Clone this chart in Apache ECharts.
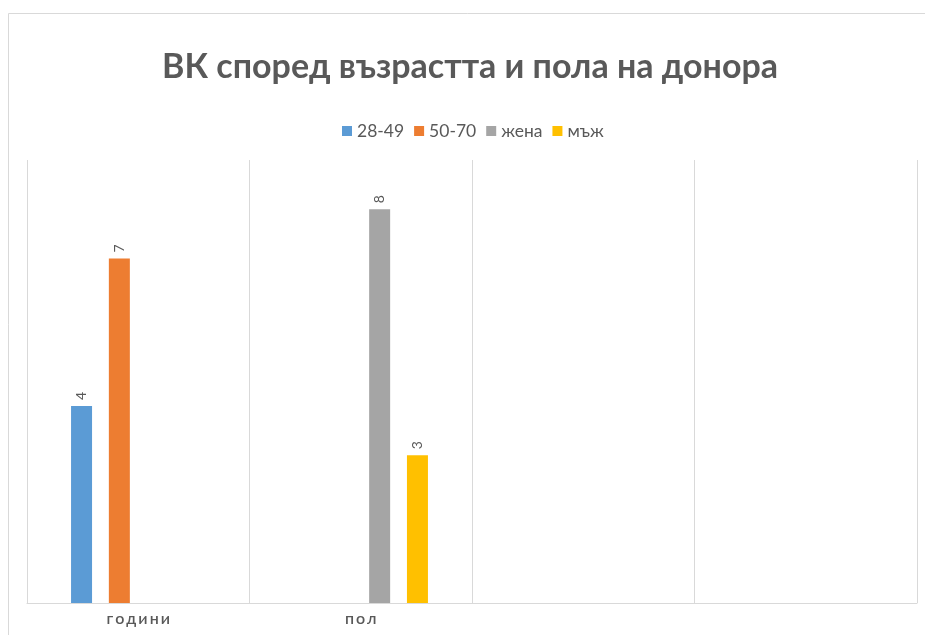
<!DOCTYPE html>
<html>
<head>
<meta charset="utf-8">
<script src="https://cdn.jsdelivr.net/npm/echarts@6/dist/echarts.min.js"></script>
<style>
  html, body { margin: 0; padding: 0; background: #fff; }
  #chart { width: 925px; height: 635px; }
</style>
</head>
<body>
<div id="chart"></div>
<script>
// Categories along the horizontal axis (last two are empty columns)
const categories = ['години', 'пол', '', ''];
const seriesNames = ['28-49', '50-70', 'жена', 'мъж'];
const age2849 = [4, null, null, null];
const age5070 = [7, null, null, null];
const female = [null, 8, null, null];
const male = [null, 3, null, null];
const seriesValues = [age2849, age5070, female, male];
const colors = ['#5b9bd5', '#ed7d31', '#a5a5a5', '#ffc000'];

const chart = echarts.init(document.getElementById('chart'));

const series = seriesNames.map((name, i) => ({
  name: name,
  type: 'bar',
  data: seriesValues[i],
  barWidth: 21,
  barGap: '80%',
  itemStyle: { color: colors[i] },
  label: {
    show: true,
    position: 'top',
    rotate: 90,
    align: 'left',
    verticalAlign: 'middle',
    distance: 6,
    color: '#595959',
    fontFamily: 'Lato',
    fontSize: 14
  }
}));

chart.setOption({
  animation: false,
  backgroundColor: '#ffffff',
  title: {
    text: 'ВК според възрастта и пола на донора',
    left: 157,
    top: 45,
    textStyle: {
      fontFamily: 'Lato',
      fontWeight: 'bold',
      fontSize: 34,
      color: '#595959'
    }
  },
  legend: {
    data: seriesNames,
    top: 117,
    left: 337,
    icon: 'rect',
    itemWidth: 10,
    itemHeight: 10,
    itemGap: 10,
    textStyle: {
      fontFamily: 'Lato',
      fontSize: 17.5,
      color: '#595959',
      padding: [0, 0, 0, 0]
    }
  },
  grid: {
    left: 27,
    right: 8,
    top: 160,
    bottom: 32,
    containLabel: false
  },
  xAxis: {
    type: 'category',
    data: categories,
    axisLine: { lineStyle: { color: '#d9d9d9', width: 1 } },
    axisTick: { show: false },
    splitLine: { show: true, lineStyle: { color: '#d9d9d9', width: 1 } },
    axisLabel: {
      margin: 8,
      color: '#595959',
      fontFamily: 'Lato',
      fontSize: 16,
      fontWeight: 600,
      // spread the letters apart a little
      formatter: v => v.split('').join('\u2009')
    }
  },
  yAxis: {
    type: 'value',
    min: 0,
    max: 9,
    show: false,
    splitLine: { show: false }
  },
  graphic: [{
    type: 'rect',
    silent: true,
    z: -1,
    shape: { x: 8.5, y: 13.5, width: 940, height: 640 },
    style: { fill: null, stroke: '#d9d9d9', lineWidth: 1 }
  }],
  series: series
});
</script>
</body>
</html>
